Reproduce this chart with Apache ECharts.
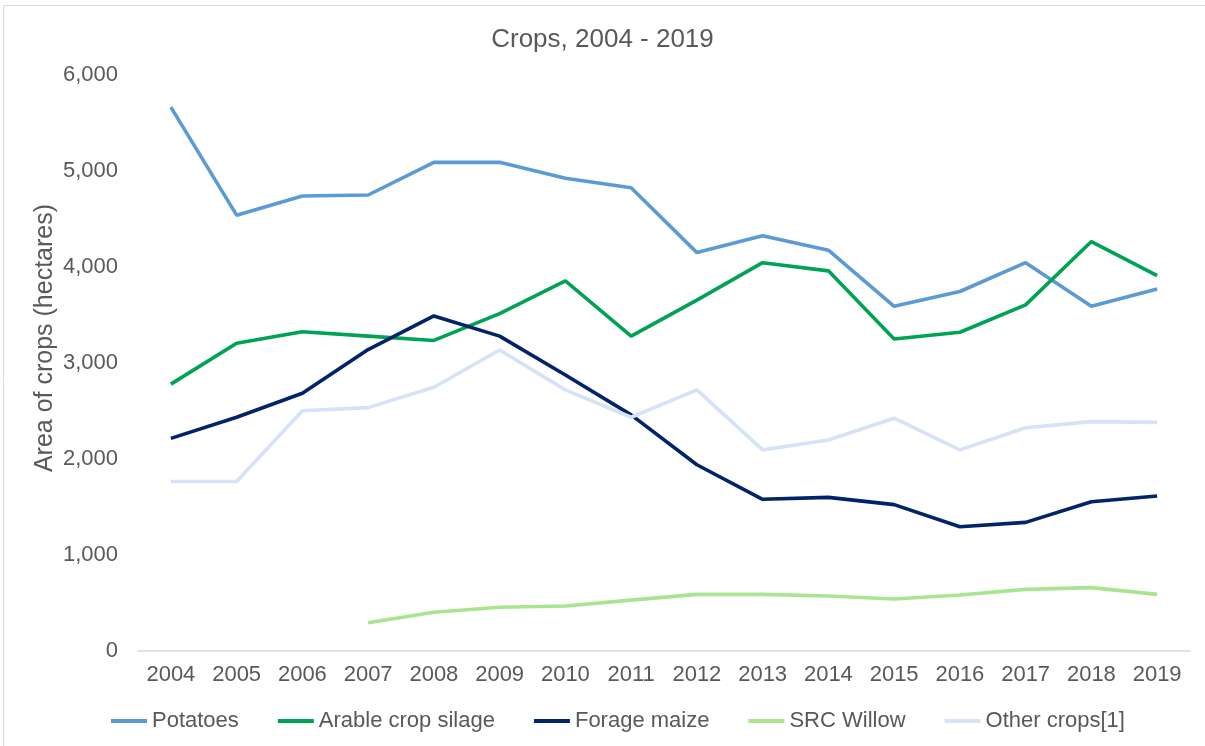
<!DOCTYPE html>
<html>
<head>
<meta charset="utf-8">
<script src="https://cdn.jsdelivr.net/npm/echarts@6/dist/echarts.min.js"></script>
<style>html,body{margin:0;padding:0;background:#fff;}#c{width:1205px;height:746px;}</style>
</head>
<body>
<div id="c"></div>
<script>
var years = ['2004','2005','2006','2007','2008','2009','2010','2011','2012','2013','2014','2015','2016','2017','2018','2019'];
var potatoes = [5665, 4540, 4740, 4750, 5090, 5090, 4925, 4825, 4150, 4325, 4175, 3590, 3745, 4045, 3590, 3770];
var arableSilage = [2780, 3205, 3325, 3280, 3235, 3515, 3855, 3280, 3655, 4045, 3960, 3250, 3320, 3605, 4265, 3910];
var forageMaize = [2215, 2435, 2685, 3140, 3490, 3280, 2875, 2460, 1940, 1580, 1600, 1525, 1295, 1340, 1555, 1615];
var srcWillow = [null, null, null, 295, 403, 455, 469, 530, 590, 590, 573, 542, 583, 642, 660, 590];
var otherCrops = [1765, 1765, 2503, 2535, 2747, 3135, 2720, 2435, 2720, 2095, 2198, 2425, 2095, 2326, 2389, 2382];
var yTicks = [0, 1000, 2000, 3000, 4000, 5000, 6000];

var chart = echarts.init(document.getElementById('c'), null, {renderer: 'canvas'});
var font = 'Liberation Sans, Arial, sans-serif';
var textColor = '#595959';
function line(name, data, color) {
  return {
    name: name, type: 'line', data: data, symbol: 'none', connectNulls: false,
    lineStyle: {color: color, width: 3.6}, itemStyle: {color: color}
  };
}
chart.setOption({
  backgroundColor: '#ffffff',
  animation: false,
  textStyle: {fontFamily: font},
  title: {
    text: 'Crops, 2004 - 2019', left: 'center', top: 22,
    textStyle: {fontFamily: font, fontSize: 26, fontWeight: 'normal', color: textColor}
  },
  legend: {
    left: 106, top: 705, itemWidth: 36, itemHeight: 4, itemGap: 39, icon: 'rect',
    textStyle: {fontFamily: font, fontSize: 22, color: textColor},
    data: ['Potatoes', 'Arable crop silage', 'Forage maize', 'SRC Willow', 'Other crops[1]']
  },
  graphic: [{
    type: 'rect', silent: true, z: -1,
    shape: {x: 3.5, y: 5.5, width: 1210, height: 760},
    style: {fill: 'none', stroke: '#d9d9d9', lineWidth: 1}
  }],
  grid: {left: 138, right: 15, top: 75, bottom: 95, containLabel: false},
  xAxis: {
    type: 'category', data: years, boundaryGap: true,
    axisTick: {show: false},
    axisLine: {lineStyle: {color: '#d9d9d9', width: 1.5}},
    axisLabel: {fontFamily: font, fontSize: 22, color: textColor, margin: 13, interval: 0}
  },
  yAxis: {
    type: 'value', min: yTicks[0], max: yTicks[yTicks.length - 1], interval: 1000,
    name: 'Area of crops (hectares)', nameLocation: 'middle', nameGap: 80, nameRotate: 90,
    nameMoveOverlap: false,
    nameTextStyle: {fontFamily: font, fontSize: 25, color: textColor, padding: [0, 0, 0, 50]},
    axisLine: {show: false}, axisTick: {show: false}, splitLine: {show: false},
    axisLabel: {
      fontFamily: font, fontSize: 22, color: textColor, margin: 20,
      formatter: function (v) { return v.toLocaleString('en-US'); }
    }
  },
  series: [
    line('Potatoes', potatoes, '#5B9BD5'),
    line('Arable crop silage', arableSilage, '#00A355'),
    line('Forage maize', forageMaize, '#002369'),
    line('SRC Willow', srcWillow, '#A9E58F'),
    line('Other crops[1]', otherCrops, '#D6E2F5')
  ]
});
</script>
</body>
</html>
